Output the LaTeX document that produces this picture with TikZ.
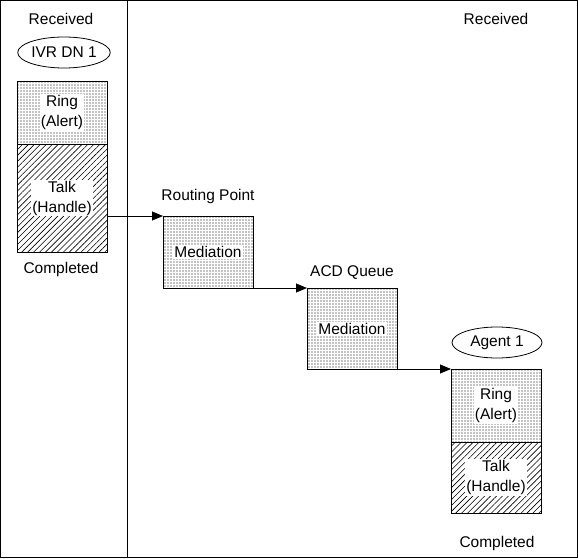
\documentclass[tikz,border=0pt]{standalone}
\usepackage{fontspec}
\setmainfont{Liberation Sans}
\usetikzlibrary{arrows.meta}
\usetikzlibrary{patterns.meta}
\usetikzlibrary{shapes.geometric}
\tikzset{
dotbox/.style={draw=black, line width=0.8pt, pattern={Dots[distance=3pt,radius=0.6pt]}, minimum width=90pt, inner sep=0pt, outer sep=0pt},
hatchbox/.style={draw=black, line width=0.8pt, pattern={Lines[angle=45,distance=4.2pt,line width=0.6pt]}, minimum width=90pt, inner sep=0pt, outer sep=0pt},
boxtext/.style={fill=white, inner sep=1pt, align=center, font=\fontsize{15.5}{20}\selectfont},
caption/.style={anchor=base, inner sep=0pt, font=\fontsize{15.5}{19}\selectfont},
dnoval/.style={shape=ellipse, draw=black, line width=0.8pt, minimum width=90pt, minimum height=31pt, inner sep=0pt, font=\fontsize{15.5}{19}\selectfont},
flow/.style={-{Triangle[length=11pt,width=9pt]}, line width=0.8pt}}

\begin{document}
\begin{tikzpicture}[x=1pt,y=-1pt]
    \useasboundingbox (0,0) rectangle (578,559);

                % frame and column divider
                \draw[line width=0.8pt] (0.5,0.5) rectangle (577,557.5);
                \coordinate (divtop) at (127,0.5);
                \coordinate (divbot) at (127,557.5);
                \draw[line width=0.8pt] (divtop) -- (divbot);

                % IVR DN column
                \node[caption] (recv1) at (61,25) {Received};
                \node[dnoval] (ivr) at (64,52.5) {IVR DN 1};
                \node[dotbox, minimum height=63pt] (ring1) at (62,112.5) {};
                \node[hatchbox, minimum height=108pt] (talk1) at (62,198) {};
                \node[boxtext] (ring1txt) at (ring1) {Ring\\(Alert)};
                \node[boxtext] (talk1txt) at (talk1) {Talk\\(Handle)};
                \node[caption] (done1) at (61,273) {Completed};

                % routing point and queue
                \node[caption] (rplabel) at (208,200) {Routing Point};
                \node[dotbox, minimum height=72pt] (med1) at (208,252) {};
                \node[boxtext] (med1txt) at (med1) {Mediation};
                \node[caption] (acdlabel) at (352,276) {ACD Queue};
                \node[dotbox, minimum height=81pt] (med2) at (352,328.5) {};
                \node[boxtext] (med2txt) at (med2) {Mediation};

                % agent
                \node[caption] (recv2) at (496,25) {Received};
                \node[dnoval] (agent) at (497,342.5) {Agent 1};
                \node[dotbox, minimum height=73pt] (ring2) at (496,405.5) {};
                \node[hatchbox, minimum height=71pt] (talk2) at (496,477.5) {};
                \node[boxtext] (ring2txt) at (ring2) {Ring\\(Alert)};
                \node[boxtext] (talk2txt) at (talk2) {Talk\\(Handle)};
                \node[caption] (done2) at (497,547) {Completed};

                \draw[flow] (med1.north west -| talk1.east) -- (med1.north west);
                \draw[flow] (med1.south east) -- (med2.north west);
                \draw[flow] (med2.south east) -- (ring2.north west);

            \end{tikzpicture}
\end{document}
